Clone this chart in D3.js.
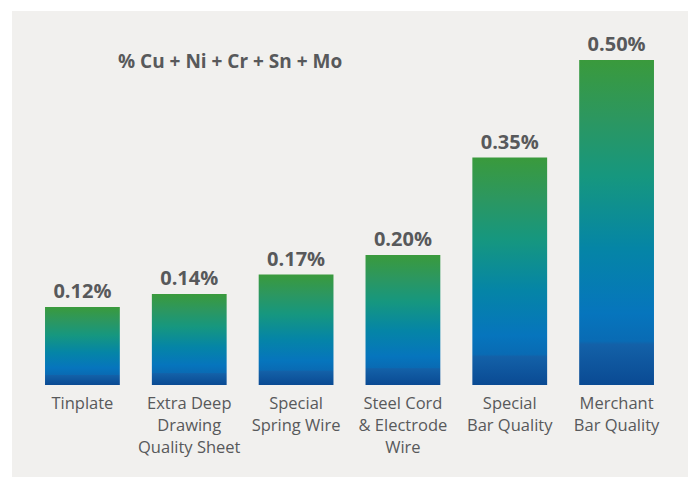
<!DOCTYPE html>
<html>
<head>
<meta charset="utf-8">
<script src="https://cdn.jsdelivr.net/npm/d3@7"></script>
<style>
  html, body { margin: 0; padding: 0; background: #ffffff; }
  svg { display: block; }
</style>
</head>
<body>
<script>
// Residual element content by steel product
const categories = [
  ["Tinplate"],
  ["Extra Deep", "Drawing", "Quality Sheet"],
  ["Special", "Spring Wire"],
  ["Steel Cord", "& Electrode", "Wire"],
  ["Special", "Bar Quality"],
  ["Merchant", "Bar Quality"]
];
const values = [0.12, 0.14, 0.17, 0.20, 0.35, 0.50];
const valueLabels = ["0.12%", "0.14%", "0.17%", "0.20%", "0.35%", "0.50%"];
const title = "% Cu + Ni + Cr + Sn + Mo";

const W = 691, H = 477;
const textColor = "#58595b";

const svg = d3.select("body").append("svg")
  .attr("width", W).attr("height", H);

// panel background
svg.append("rect")
  .attr("x", 12).attr("y", 11)
  .attr("width", 676).attr("height", 466)
  .attr("fill", "#f1f0ee");

// vertical gradient shared by every bar (bounding-box units)
const grad = svg.append("defs").append("linearGradient")
  .attr("id", "barGrad")
  .attr("x1", 0).attr("y1", 0).attr("x2", 0).attr("y2", 1);
[
  [0.00, "#3a9a3c"],
  [0.18, "#2c9760"],
  [0.36, "#16977f"],
  [0.58, "#0585a6"],
  [0.78, "#0675bd"],
  [0.865, "#096bb4"],
  [0.875, "#1361a8"],
  [1.00, "#0a4a93"]
].forEach(([o, c]) => grad.append("stop").attr("offset", o).attr("stop-color", c));

const x = d3.scaleBand()
  .domain(d3.range(values.length))
  .range([29, 670])
  .paddingInner(0.3)
  .paddingOuter(0.15);

const y = d3.scaleLinear()
  .domain([0, 0.5])
  .range([385, 60]);

const g = svg.append("g");

g.selectAll("rect.bar")
  .data(values)
  .join("rect")
  .attr("class", "bar")
  .attr("x", (d, i) => x(i))
  .attr("width", x.bandwidth())
  .attr("y", d => y(d))
  .attr("height", d => y(0) - y(d))
  .attr("fill", "url(#barGrad)");

// value labels above bars
g.selectAll("text.val")
  .data(values)
  .join("text")
  .attr("class", "val")
  .attr("x", (d, i) => x(i) + x.bandwidth() / 2)
  .attr("y", d => y(d) - 9)
  .attr("text-anchor", "middle")
  .attr("font-family", "'Open Sans', sans-serif")
  .attr("font-weight", 700)
  .attr("font-size", 20)
  .attr("fill", textColor)
  .text((d, i) => valueLabels[i]);

// category labels below bars
const cat = g.selectAll("text.cat")
  .data(categories)
  .join("text")
  .attr("class", "cat")
  .attr("x", (d, i) => x(i) + x.bandwidth() / 2)
  .attr("y", 409)
  .attr("text-anchor", "middle")
  .attr("font-family", "'Open Sans', sans-serif")
  .attr("font-size", 16.5)
  .attr("fill", textColor);
cat.selectAll("tspan")
  .data((d, i) => d.map(line => ({ line, i })))
  .join("tspan")
  .attr("x", d => x(d.i) + x.bandwidth() / 2)
  .attr("dy", (d, j) => j === 0 ? 0 : 22)
  .text(d => d.line);

// heading
svg.append("text")
  .attr("x", 118).attr("y", 68)
  .attr("font-family", "'Open Sans', sans-serif")
  .attr("font-weight", 700)
  .attr("font-size", 19)
  .attr("fill", textColor)
  .text(title);
</script>
</body>
</html>
